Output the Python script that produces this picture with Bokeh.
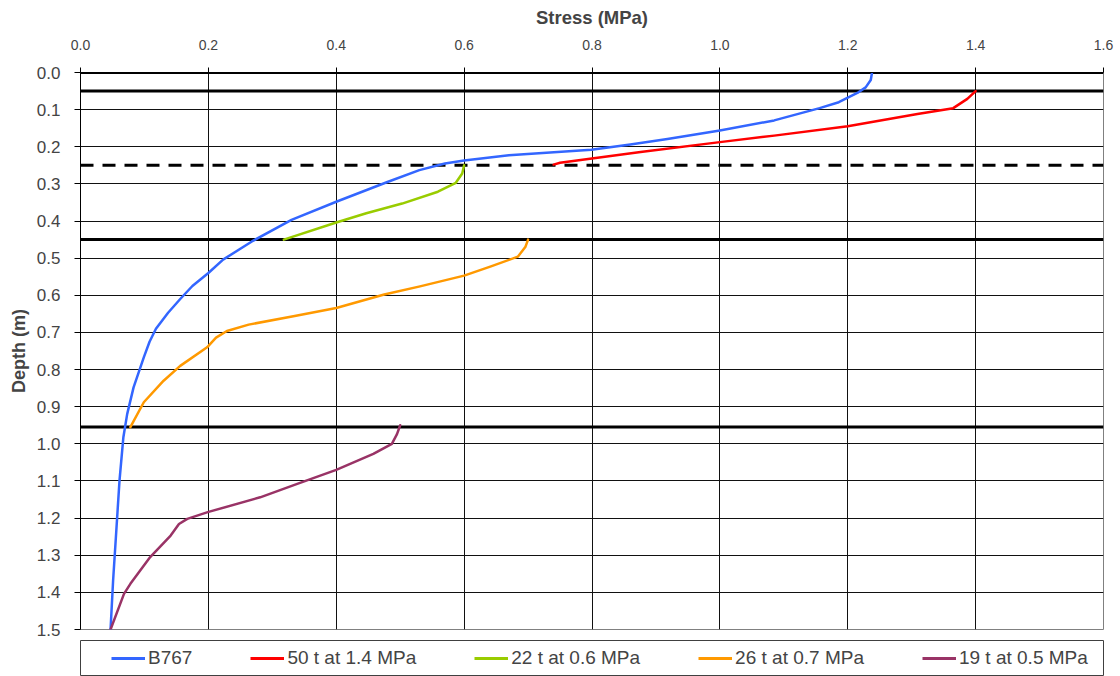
from bokeh.plotting import figure
from bokeh.layouts import column
from bokeh.models import (Range1d, FixedTicker, NumeralTickFormatter, Legend,
                          LegendItem)
from bokeh.embed import file_html
from bokeh.resources import INLINE

# ---------------- data ----------------
stress_ticks = [0.0, 0.2, 0.4, 0.6, 0.8, 1.0, 1.2, 1.4, 1.6]
depth_ticks = [0.0, 0.1, 0.2, 0.3, 0.4, 0.5, 0.6, 0.7, 0.8, 0.9, 1.0,
               1.1, 1.2, 1.3, 1.4, 1.5]

series_names = ["B767", "50 t at 1.4 MPa", "22 t at 0.6 MPa",
                "26 t at 0.7 MPa", "19 t at 0.5 MPa"]

b767_stress = [1.238, 1.236, 1.228, 1.215, 1.186, 1.156, 1.085, 1.000, 0.918,
               0.860, 0.799, 0.670, 0.600, 0.570, 0.530, 0.480, 0.400, 0.330,
               0.268, 0.223, 0.200, 0.175, 0.156, 0.137, 0.118, 0.108, 0.099,
               0.083, 0.073, 0.067, 0.061, 0.056, 0.051, 0.047]
b767_depth = [0.000, 0.020, 0.040, 0.055, 0.080, 0.096, 0.129, 0.156, 0.179,
              0.194, 0.208, 0.223, 0.237, 0.245, 0.263, 0.295, 0.348, 0.397,
              0.455, 0.504, 0.540, 0.575, 0.610, 0.647, 0.690, 0.725, 0.767,
              0.848, 0.920, 0.983, 1.099, 1.234, 1.368, 1.500]

t50_stress = [1.400, 1.387, 1.365, 1.309, 1.200, 1.085, 1.000, 0.876, 0.750, 0.740]
t50_depth = [0.050, 0.071, 0.096, 0.112, 0.145, 0.170, 0.1875, 0.214, 0.243, 0.248]

t22_stress = [0.600, 0.597, 0.587, 0.559, 0.503, 0.447, 0.400, 0.318]
t22_depth = [0.250, 0.272, 0.297, 0.321, 0.353, 0.379, 0.404, 0.450]

t26_stress = [0.700, 0.696, 0.684, 0.642, 0.600, 0.531, 0.475, 0.400, 0.335,
              0.263, 0.229, 0.212, 0.198, 0.156, 0.130, 0.099, 0.078]
t26_depth = [0.450, 0.469, 0.496, 0.522, 0.547, 0.576, 0.598, 0.634, 0.656,
             0.679, 0.696, 0.714, 0.740, 0.790, 0.830, 0.888, 0.955]

t19_stress = [0.500, 0.495, 0.487, 0.458, 0.400, 0.339, 0.281, 0.199, 0.167,
              0.154, 0.141, 0.109, 0.078, 0.068, 0.047]
t19_depth = [0.950, 0.974, 1.000, 1.027, 1.070, 1.108, 1.144, 1.184, 1.202,
             1.216, 1.247, 1.305, 1.377, 1.404, 1.500]

layer_depths = [0.0, 0.05, 0.25, 0.45, 0.955]
layer_dashed = [False, False, True, False, False]
layer_span = [0.0, 1.6]

# ---------------- styles ----------------
FONT = "Liberation Sans"
colors = ["#3366FF", "#FF0000", "#99CC00", "#FF9900", "#993366"]

p = figure(width=1120, height=640, output_backend="svg", toolbar_location=None,
           x_axis_location="above",
           x_range=Range1d(0, 1.6), y_range=Range1d(1.5, 0.0),
           min_border_left=80, min_border_right=17, min_border_top=72,
           min_border_bottom=11)
p.background_fill_color = "white"
p.border_fill_color = "white"
p.outline_line_color = "#808080"
p.outline_line_width = 1

xa = p.xaxis[0]
xa.ticker = FixedTicker(ticks=stress_ticks)
xa.formatter = NumeralTickFormatter(format="0.0")
xa.axis_label = "Stress (MPa)"
xa.axis_label_text_font = FONT
xa.axis_label_text_font_style = "bold"
xa.axis_label_text_font_size = "18.5px"
xa.axis_label_standoff = 9
xa.major_label_text_font = FONT
xa.major_label_text_font_size = "14px"
xa.major_label_standoff = 18
xa.major_tick_out = 5
xa.major_tick_in = 0
xa.minor_tick_line_color = None
xa.axis_line_color = "black"
xa.major_tick_line_color = "black"

ya = p.yaxis[0]
ya.ticker = FixedTicker(ticks=depth_ticks)
ya.formatter = NumeralTickFormatter(format="0.0")
ya.axis_label = "Depth (m)"
ya.axis_label_text_font = FONT
ya.axis_label_text_font_style = "bold"
ya.axis_label_text_font_size = "18px"
ya.axis_label_standoff = 5
ya.major_label_text_font = FONT
ya.major_label_text_font_size = "17px"
ya.major_label_standoff = 14
ya.major_tick_out = 6
ya.major_tick_in = 0
ya.minor_tick_line_color = None
ya.axis_line_color = "black"
ya.major_tick_line_color = "black"

p.xgrid.ticker = FixedTicker(ticks=stress_ticks)
p.ygrid.ticker = FixedTicker(ticks=depth_ticks)
p.xgrid.grid_line_color = "#111111"
p.ygrid.grid_line_color = "#111111"

# layer boundaries
for d, dashed in zip(layer_depths, layer_dashed):
    p.line(layer_span, [d, d], line_color="black", line_width=3,
           line_dash="13 9" if dashed else "solid")

curves = [(b767_stress, b767_depth), (t50_stress, t50_depth),
          (t22_stress, t22_depth), (t26_stress, t26_depth),
          (t19_stress, t19_depth)]
for (xs, ys), c in zip(curves, colors):
    p.line(xs, ys, line_color=c, line_width=2.5, line_join="round",
           line_cap="round")

# ---------------- legend strip below the chart ----------------
lg = figure(width=1120, height=36, output_backend="svg", toolbar_location=None,
            x_axis_type=None, y_axis_type=None,
            x_range=Range1d(10, 11), y_range=Range1d(10, 11),
            min_border_left=80, min_border_right=8, min_border_top=0,
            min_border_bottom=0)
lg.grid.visible = False
lg.outline_line_color = "#404040"
lg.outline_line_width = 1
lg.border_fill_color = "white"

items = []
for (xs, ys), c, name in zip(curves, colors, series_names):
    r = lg.line(xs, ys, line_color=c, line_width=3)
    items.append(LegendItem(label=name, renderers=[r]))

legend = Legend(items=items, orientation="horizontal", location=(27, 3),
                padding=4, spacing=58, glyph_width=34, glyph_height=20,
                label_height=20, label_standoff=3, margin=0,
                label_text_font=FONT, label_text_font_size="19px",
                border_line_alpha=0, background_fill_alpha=0)
lg.add_layout(legend, "center")

open("out.html", "w").write(file_html(column(p, lg, spacing=0), INLINE))
